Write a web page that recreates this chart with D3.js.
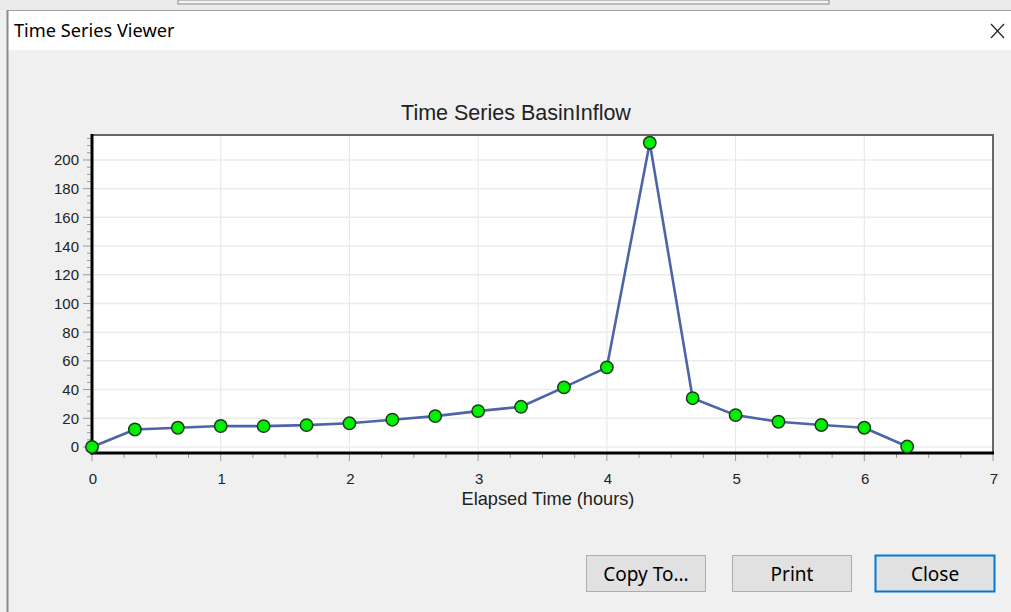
<!DOCTYPE html>
<html>
<head>
<meta charset="utf-8">
<script src="https://cdn.jsdelivr.net/npm/d3@7/dist/d3.min.js"></script>
<style>
  html, body { margin: 0; padding: 0; background: #f0f0f0; overflow: hidden; }
  svg { display: block; }
</style>
</head>
<body>
<svg id="chart" width="1011" height="612"></svg>
<script>
// ---- data ----
const times = [0, 0.3333, 0.6667, 1, 1.3333, 1.6667, 2, 2.3333, 2.6667, 3, 3.3333, 3.6667, 4, 4.3333, 4.6667, 5, 5.3333, 5.6667, 6, 6.3333];
const inflow = [0, 12.2, 13.4, 14.6, 14.5, 15.2, 16.5, 19, 21.5, 25, 28, 41.5, 55.5, 212, 34, 22.2, 17.6, 15.3, 13.4, 0.3];
const xTicks = [0, 1, 2, 3, 4, 5, 6, 7];
const yTicks = [0, 20, 40, 60, 80, 100, 120, 140, 160, 180, 200];
const windowTitle = "Time Series Viewer";
const chartTitle = "Time Series BasinInflow";
const xLabel = "Elapsed Time (hours)";
const buttons = ["Copy To...", "Print", "Close"];

const svg = d3.select("#chart");
const uiFont = "'Noto Sans', 'Open Sans', sans-serif";
const chartFont = "'Liberation Sans', Arial, sans-serif";

// ---- window chrome ----
svg.append("rect").attr("x", 0).attr("y", 0).attr("width", 1011).attr("height", 612).attr("fill", "#f0f0f0");
svg.append("rect").attr("x", 0).attr("y", 0).attr("width", 1011).attr("height", 10).attr("fill", "#ebebeb");
svg.append("rect").attr("x", 178).attr("y", 0).attr("width", 651).attr("height", 4).attr("fill", "#f3f3f3")
  .attr("stroke", "#9a9a9a").attr("stroke-width", 1.2);
svg.append("rect").attr("x", 7).attr("y", 10).attr("width", 1004).attr("height", 40).attr("fill", "#ffffff");
svg.append("line").attr("x1", 7).attr("x2", 1011).attr("y1", 10.5).attr("y2", 10.5).attr("stroke", "#a0a0a0").attr("stroke-width", 1);
svg.append("line").attr("x1", 7.5).attr("x2", 7.5).attr("y1", 10).attr("y2", 612).attr("stroke", "#8c8c8c").attr("stroke-width", 2);
svg.append("text").attr("x", 14).attr("y", 37).attr("font-family", uiFont).attr("font-size", 18.2)
  .attr("fill", "#000").text(windowTitle);
svg.append("line").attr("x1", 991).attr("y1", 24).attr("x2", 1004).attr("y2", 38).attr("stroke", "#222").attr("stroke-width", 1.2);
svg.append("line").attr("x1", 1004).attr("y1", 24).attr("x2", 991).attr("y2", 38).attr("stroke", "#222").attr("stroke-width", 1.2);

// ---- plot ----
const pLeft = 92, pRight = 993, pTop = 135, pBottom = 453;
const x = d3.scaleLinear().domain([0, 7]).range([pLeft, pRight]);
const y = d3.scaleLinear().domain([-4.2, 217.4]).range([pBottom, pTop]);

svg.append("rect").attr("x", pLeft).attr("y", pTop).attr("width", pRight - pLeft).attr("height", pBottom - pTop).attr("fill", "#ffffff");

// gridlines
svg.append("g").selectAll("line").data(xTicks.slice(1, -1)).join("line")
  .attr("x1", d => x(d)).attr("x2", d => x(d)).attr("y1", pTop).attr("y2", pBottom)
  .attr("stroke", "#e6e6e6").attr("stroke-width", 1);
svg.append("g").selectAll("line").data(yTicks).join("line")
  .attr("x1", pLeft).attr("x2", pRight).attr("y1", d => y(d)).attr("y2", d => y(d))
  .attr("stroke", "#ececec").attr("stroke-width", 1.5);

// minor ticks
const xMinor = d3.range(0, 7.001, 0.25);
svg.append("g").selectAll("line").data(xMinor).join("line")
  .attr("x1", d => x(d)).attr("x2", d => x(d))
  .attr("y1", pBottom).attr("y2", d => Number.isInteger(d) ? pBottom + 8 : pBottom + 5)
  .attr("stroke", "#9a9a9a").attr("stroke-width", 1);
const yMinor = d3.range(0, 216, 5);
svg.append("g").selectAll("line").data(yMinor).join("line")
  .attr("x1", d => d % 20 === 0 ? pLeft - 9 : pLeft - 5).attr("x2", pLeft)
  .attr("y1", d => y(d)).attr("y2", d => y(d))
  .attr("stroke", "#9a9a9a").attr("stroke-width", 1);

// frame
svg.append("line").attr("x1", pLeft).attr("x2", pRight + 1).attr("y1", pTop).attr("y2", pTop).attr("stroke", "#666").attr("stroke-width", 2);
svg.append("line").attr("x1", pRight).attr("x2", pRight).attr("y1", pTop).attr("y2", pBottom).attr("stroke", "#666").attr("stroke-width", 2);
svg.append("line").attr("x1", pLeft).attr("x2", pLeft).attr("y1", pTop - 1).attr("y2", pBottom + 1.5).attr("stroke", "#000").attr("stroke-width", 3);
svg.append("line").attr("x1", pLeft - 1.5).attr("x2", pRight + 1).attr("y1", pBottom).attr("y2", pBottom).attr("stroke", "#000").attr("stroke-width", 3);

// tick labels
svg.append("g").selectAll("text").data(xTicks).join("text")
  .attr("x", d => x(d) + 1).attr("y", 484).attr("text-anchor", "middle")
  .attr("font-family", chartFont).attr("font-size", 15).attr("fill", "#222").text(d => d);
svg.append("g").selectAll("text").data(yTicks).join("text")
  .attr("x", 79).attr("y", d => y(d) + 5.5).attr("text-anchor", "end")
  .attr("font-family", chartFont).attr("font-size", 15).attr("fill", "#222").text(d => d);

// titles
svg.append("text").attr("x", 516).attr("y", 120).attr("text-anchor", "middle")
  .attr("font-family", chartFont).attr("font-size", 21.5).attr("fill", "#222").text(chartTitle);
svg.append("text").attr("x", 548).attr("y", 505).attr("text-anchor", "middle")
  .attr("font-family", chartFont).attr("font-size", 18.2).attr("fill", "#222").text(xLabel);

// series
const pts = times.map((t, i) => [t, inflow[i]]);
const line = d3.line().x(d => x(d[0])).y(d => y(d[1]));
svg.append("path").datum(pts).attr("d", line).attr("fill", "none")
  .attr("stroke", "#4d64a8").attr("stroke-width", 2.6).attr("stroke-linejoin", "round");
svg.append("g").selectAll("circle").data(pts).join("circle")
  .attr("cx", d => x(d[0])).attr("cy", d => y(d[1])).attr("r", 6.2)
  .attr("fill", "#00f000").attr("stroke", "#1c3a1c").attr("stroke-width", 1.5);

// buttons
const btnX = [586, 732, 875];
const bg = svg.append("g").selectAll("g").data(buttons).join("g")
  .attr("transform", (d, i) => `translate(${btnX[i]},555)`);
bg.append("rect").attr("x", 0.5).attr("y", 0.5).attr("width", 119).attr("height", 36)
  .attr("fill", "#e1e1e1")
  .attr("stroke", (d, i) => i === 2 ? "#0078d7" : "#adadad")
  .attr("stroke-width", (d, i) => i === 2 ? 2 : 1);
bg.append("text").attr("x", 60).attr("y", 25.5).attr("text-anchor", "middle")
  .attr("font-family", uiFont).attr("font-size", 19).attr("fill", "#000").text(d => d);
</script>
</body>
</html>
